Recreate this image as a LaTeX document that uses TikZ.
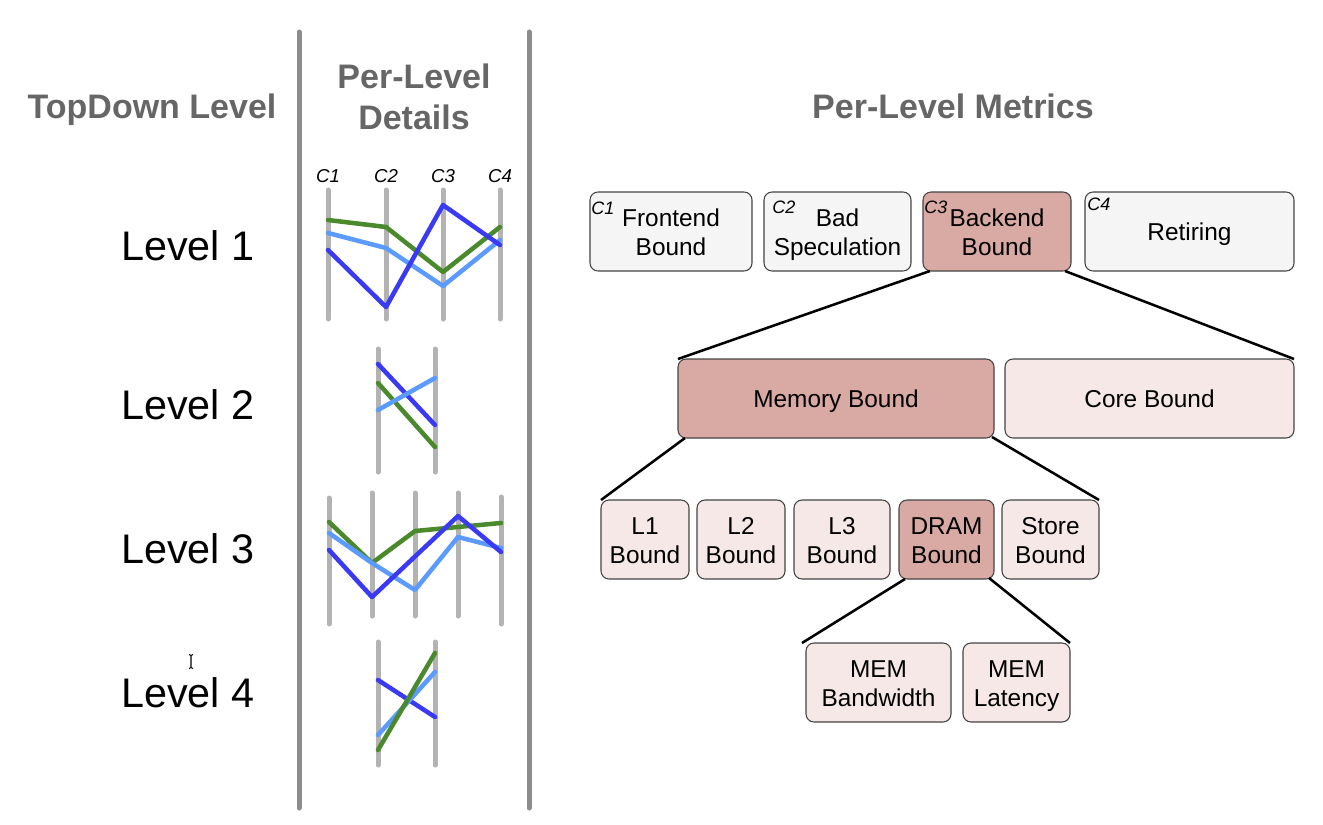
\documentclass[tikz,border=0pt]{standalone}
\usepackage{fontspec}
\setmainfont{Liberation Sans}
\usetikzlibrary{calc}
\definecolor{sepgray}{HTML}{8C8C8C}
\definecolor{axisgray}{HTML}{B3B3B3}
\definecolor{headgray}{HTML}{666666}
\definecolor{serA}{HTML}{4A8A2C}
\definecolor{serB}{HTML}{5B9BFF}
\definecolor{serC}{HTML}{3A3AF2}
\definecolor{boxline}{HTML}{444444}
\definecolor{plainfill}{HTML}{F5F5F5}
\definecolor{hotfill}{HTML}{D9AAA3}
\definecolor{warmfill}{HTML}{F5E8E6}
% struts that keep box text vertically centred, whatever its letters
\newcommand\capstrut{\rule[-4pt]{0pt}{21.6pt}}
\newcommand\firststrut{\rule{0pt}{18pt}}
\begin{document}
\begin{tikzpicture}[x=0.75pt,y=-0.75pt,
  header/.style={font=\fontsize{25.5}{30.75}\selectfont\bfseries, text=headgray, inner sep=0, align=center, anchor=base},
  levellabel/.style={font=\fontsize{31}{37}\selectfont, inner sep=0, anchor=base west},
  axislabel/.style={font=\fontsize{14}{16}\selectfont\itshape, inner sep=0, anchor=base},
  ctag/.style={font=\fontsize{13.5}{15}\selectfont\itshape, inner sep=0, anchor=north west},
  separator/.style={draw=sepgray, line width=3.75pt, line cap=round},
  axisline/.style={draw=axisgray, line width=3.75pt, line cap=round},
  series/.style={line width=3.4pt, line join=round, line cap=round},
  box/.style={draw=boxline, line width=0.8pt, rounded corners=6pt, inner sep=0, outer sep=0,
    align=center, font=\fontsize{18.3}{21.75}\selectfont, minimum height=59.25pt,
    execute at begin node=\capstrut, execute at end node=\capstrut},
  plainbox/.style={box, fill=plainfill},
  hotbox/.style={box, fill=hotfill},
  warmbox/.style={box, fill=warmfill},
  link/.style={draw=black, line width=1.9pt}
]
\useasboundingbox (0,0) rectangle (1323,824);

% column separators
\draw[separator] (299,32) -- (299,808);
\draw[separator] (529,32) -- (529,808);

% column headings
\node[header] (hlevel) at (152,118) {TopDown Level};
\node[header] (hdetail) at (414,129) {Per-Level\\Details};
\node[header] (hmetric) at (953,118) {Per-Level Metrics};

% level names
\node[levellabel] (lv1) at (121,260) {Level 1};
\node[levellabel] (lv2) at (121,419) {Level 2};
\node[levellabel] (lv3) at (121,563) {Level 3};
\node[levellabel] (lv4) at (121,707) {Level 4};

% level 1: parallel coordinates
\foreach \x/\n in {328/C1,386/C2,443/C3,500/C4}{
  \draw[axisline] (\x,190) -- (\x,319);
  \node[axislabel] (ax\n) at (\x,182) {\n};
}
\draw[series, serA] (328,220) -- (386,227) -- (443,272) -- (500,227);
\draw[series, serB] (328,233) -- (386,248) -- (443,286) -- (500,240);
\draw[series, serC] (328,250) -- (386,307) -- (443,205) -- (500,245);

% level 2
\foreach \x in {378,435} \draw[axisline] (\x,349) -- (\x,472);
\draw[series, serC] (378,364) -- (435,425);
\draw[series, serA] (378,383) -- (435,447);
\draw[series, serB] (378,410) -- (435,378);

% level 3
\draw[axisline] (329,498) -- (329,624);
\draw[axisline] (372,493) -- (372,616);
\draw[axisline] (415,493) -- (415,616);
\draw[axisline] (458,493) -- (458,616);
\draw[axisline] (501,497) -- (501,624);
\draw[series, serA] (329,522) -- (372,563) -- (415,531) -- (458,527) -- (501,523);
\draw[series, serB] (329,533) -- (372,563) -- (415,590) -- (458,537) -- (501,548);
\draw[series, serC] (329,550) -- (372,597) -- (458,516) -- (501,552);

% level 4
\foreach \x in {378,435} \draw[axisline] (\x,642) -- (\x,765);
\draw[series, serC] (378,680) -- (435,717);
\draw[series, serB] (378,735) -- (435,672);
\draw[series, serA] (378,750) -- (435,653);

% text cursor
\draw[line width=0.8pt] (189,654.5) -- (191,655.5) -- (193,654.5)
  (191,655.5) -- (191,667.5) (189,668.5) -- (191,667.5) -- (193,668.5);

% metric tree, level 1
\node[plainbox, minimum width=121.5pt] (fe) at (671,231.5) {\firststrut Frontend\\Bound};
\node[plainbox, minimum width=110.25pt] (bs) at (837.5,231.5) {\firststrut Bad\\Speculation};
\node[hotbox, minimum width=111pt] (be) at (997,231.5) {\firststrut Backend\\Bound};
\node[plainbox, minimum width=156.75pt] (rt) at (1189.5,231.5) {Retiring};
\node[ctag] (tag1) at ($(fe.north west)+(1,10)$) {C1};
\node[ctag] (tag2) at ($(bs.north west)+(8,9)$) {C2};
\node[ctag] (tag3) at ($(be.north west)+(1,9)$) {C3};
\node[ctag] (tag4) at ($(rt.north west)+(2,6)$) {C4};

% level 2
\node[hotbox, minimum width=237pt] (mb) at (836,398.5) {Memory Bound};
\node[warmbox, minimum width=216.75pt] (cb) at (1149.5,398.5) {Core Bound};

% level 3
\node[warmbox, minimum width=66pt] (l1) at (645,539.5) {\firststrut L1\\Bound};
\node[warmbox, minimum width=66pt] (l2) at (741,539.5) {\firststrut L2\\Bound};
\node[warmbox, minimum width=72pt] (l3) at (842,539.5) {\firststrut L3\\Bound};
\node[hotbox, minimum width=71.25pt] (dr) at (946.5,539.5) {\firststrut DRAM\\Bound};
\node[warmbox, minimum width=72.75pt] (sb) at (1050.5,539.5) {\firststrut Store\\Bound};

% level 4
\node[warmbox, minimum width=108.75pt] (bw) at (878.5,682.5) {\firststrut MEM\\Bandwidth};
\node[warmbox, minimum width=80.25pt] (lt) at (1016.5,682.5) {\firststrut MEM\\Latency};

% drill-down fans
\draw[link] ($(be.south west)+(7,0)$) -- (mb.north west);
\draw[link] ($(be.south east)+(-6,0)$) -- (cb.north east);
\draw[link] ($(mb.south west)+(7,0)$) -- (l1.north west);
\draw[link] ($(mb.south east)+(-2,-1)$) -- (sb.north east);
\draw[link] ($(dr.south west)+(6,0)$) -- ($(bw.north west)+(-4,0)$);
\draw[link] ($(dr.south east)+(-5,-1)$) -- (lt.north east);
\end{tikzpicture}
\end{document}
